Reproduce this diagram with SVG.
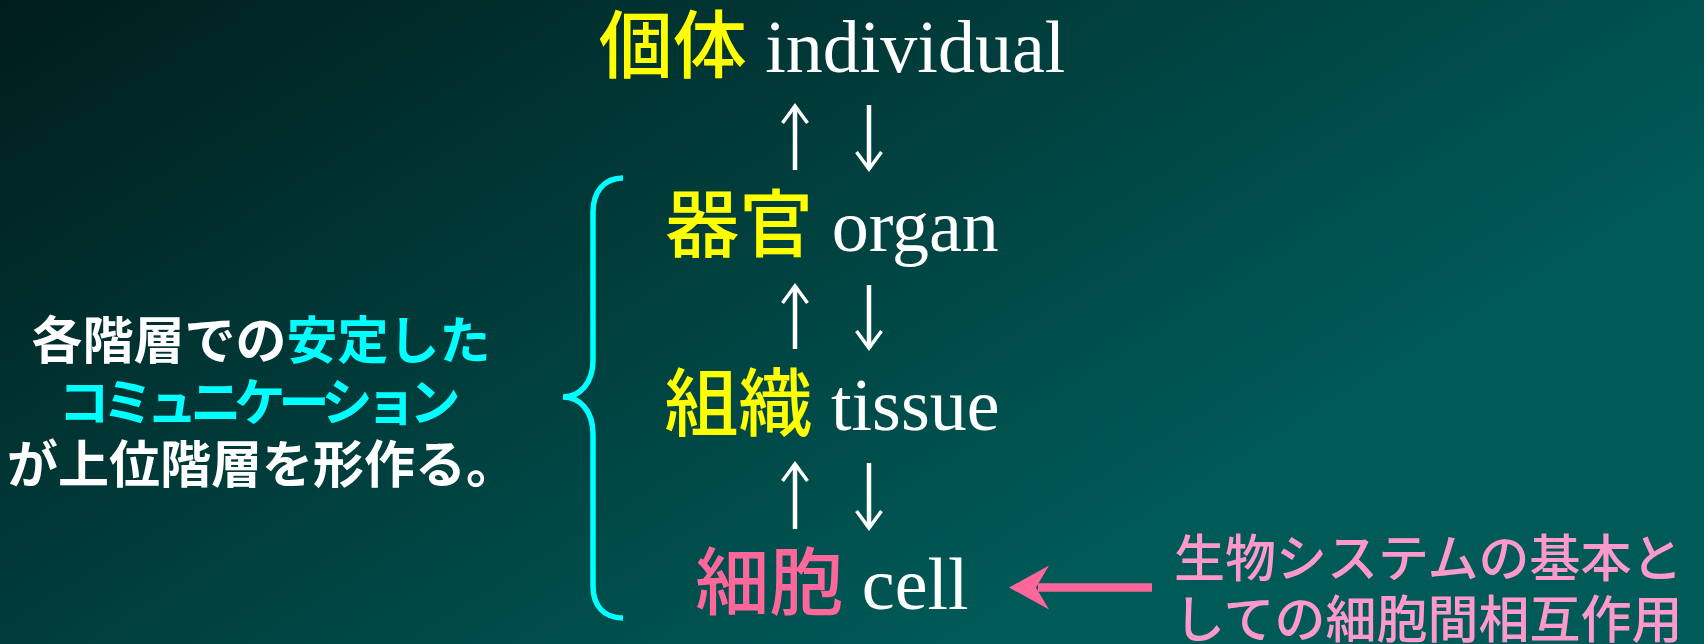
<svg xmlns="http://www.w3.org/2000/svg" width="1704" height="644" viewBox="0 0 1704 644">
<defs>
<linearGradient id="bg" gradientUnits="userSpaceOnUse" x1="0" y1="0" x2="554" y2="896">
<stop offset="0" stop-color="#001d1c"/>
<stop offset="1" stop-color="#005a58"/>
</linearGradient>
<marker id="chev" viewBox="-20 -15 23 30" refX="0" refY="0" markerWidth="23" markerHeight="30" markerUnits="userSpaceOnUse" orient="auto">
<polyline points="-17,-12.5 0,0 -17,12.5" fill="none" stroke="#ffffff" stroke-width="3.5" stroke-linejoin="miter"/>
</marker>
<style>
.cjk{font-family:"Noto Sans CJK JP","Noto Sans CJK SC",sans-serif;}
.lat{font-family:"Liberation Serif","Times New Roman",serif;}
.lbl{font-size:74px;text-anchor:middle;}
.lbl .cjk{font-weight:500;}
.yel{fill:#ffff00;}
.wht{fill:#ffffff;}
.pnk{fill:#ff6699;}
.cyn{fill:#00ffff;}
.note{font-size:51px;font-weight:bold;text-anchor:middle;}
.note2{font-size:51px;font-weight:500;fill:#ff99cc;}
.updn{fill:none;stroke:#ffffff;stroke-width:4.5;marker-end:url(#chev);}
</style>
</defs>
<rect x="0" y="0" width="1704" height="644" fill="url(#bg)"/>

<g id="node-individual">
<text class="lbl" x="832" y="72"><tspan class="cjk yel">個体</tspan><tspan class="lat wht"> individual</tspan></text>
</g>
<g id="node-organ">
<text class="lbl" x="832" y="251"><tspan class="cjk yel">器官</tspan><tspan class="lat wht"> organ</tspan></text>
</g>
<g id="node-tissue">
<text class="lbl" x="832" y="430"><tspan class="cjk yel">組織</tspan><tspan class="lat wht"> tissue</tspan></text>
</g>
<g id="node-cell">
<text class="lbl" x="832" y="609"><tspan class="cjk pnk">細胞</tspan><tspan class="lat wht"> cell</tspan></text>
</g>

<g id="brace">
<path d="M623,178 C604,178 593,192 593,212 V360 C593,383 580,397 563,397 C580,397 593,411 593,434 V586 C593,606 604,618 623,618" fill="none" stroke="#00ffff" stroke-width="5.5"/>
</g>

<g id="note-left" class="cjk">
<text class="note" x="261" y="359"><tspan class="wht">各階層での</tspan><tspan class="cyn">安定した</tspan></text>
<text class="note cyn" x="256" y="421" letter-spacing="-7">コミュニケーション</text>
<text class="note wht" x="262" y="483">が上位階層を形作る。</text>
</g>

<g id="note-right" class="cjk">
<text class="note2" x="1174" y="577">生物システムの基本と</text>
<text class="note2" x="1174" y="638">しての細胞間相互作用</text>
</g>

<g id="connectors">
<path class="updn" d="M795,170 V106"/>
<path class="updn" d="M869,105 V169"/>
<path class="updn" d="M795,349 V286"/>
<path class="updn" d="M869,285 V348"/>
<path class="updn" d="M795,529 V464"/>
<path class="updn" d="M869,463 V528"/>
<g id="cell-arrow">
<path d="M1152,587.5 H1038" stroke="#ff6699" stroke-width="8.5" fill="none"/>
<polygon points="1009,587.5 1049,565.5 1036,587.5 1049,609.5" fill="#ff6699"/>
</g>
</g>
</svg>
